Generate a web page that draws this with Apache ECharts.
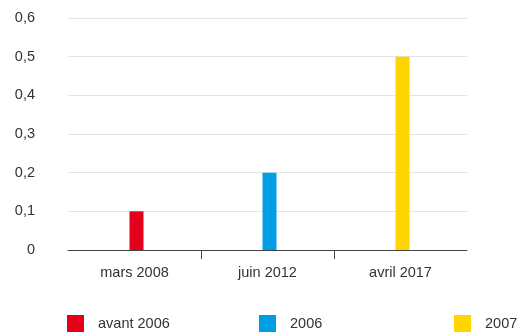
<!DOCTYPE html>
<html><head><meta charset="utf-8">
<script src="https://cdn.jsdelivr.net/npm/echarts@6/dist/echarts.min.js"></script>
<style>html,body{margin:0;padding:0;background:#fff}#c{width:517px;height:335px}</style>
</head><body><div id="c"></div>
<script>
const categories = ['mars 2008', 'juin 2012', 'avril 2017'];
const seriesNames = ['avant 2006', '2006', '2007'];
const avant2006 = [0.1, null, null];
const s2006 = [null, 0.2, null];
const s2007 = [null, null, 0.5];
const yTicks = [0, 0.1, 0.2, 0.3, 0.4, 0.5, 0.6];
const colors = ['#E2001A', '#009FE3', '#FFD500'];

const font = '"Liberation Sans", Arial, sans-serif';
const fs = 14.5;
const txt = '#333';
const chart = echarts.init(document.getElementById('c'), null, {renderer: 'canvas'});
const values = [avant2006, s2006, s2007];
const legendLeft = [67, 259, 454];
const yMin = yTicks[0], yMax = yTicks[yTicks.length - 1];
chart.setOption({
  animation: false,
  grid: [
    {left: 68, right: 50, top: 18, bottom: 85, containLabel: false},
    {left: 70, right: 48, top: 18, bottom: 85, containLabel: false}
  ],
  legend: seriesNames.map((n, i) => ({
    data: [n], left: legendLeft[i], top: 315, padding: 0, itemWidth: 17, itemHeight: 17,
    icon: 'rect', selectedMode: false,
    textStyle: {fontFamily: font, fontSize: fs, color: txt, padding: [0, 0, 0, 9]}
  })),
  xAxis: [{
    gridIndex: 0, type: 'category', data: categories,
    axisLine: {lineStyle: {color: '#444', width: 1}},
    axisTick: {show: false},
    axisLabel: {fontFamily: font, fontSize: fs, color: txt, margin: 15}
  }, {
    gridIndex: 0, type: 'category', data: ['', '', '', ''], boundaryGap: false, position: 'bottom',
    axisLine: {show: false}, axisLabel: {show: false},
    axisTick: {show: true, length: 9, lineStyle: {color: '#444'}, interval: (i) => i === 1 || i === 2}
  }, {
    gridIndex: 1, type: 'category', data: categories, show: false
  }],
  yAxis: [{
    gridIndex: 0, type: 'value', min: yMin, max: yMax, interval: 0.1,
    axisLine: {show: false}, axisTick: {show: false},
    splitLine: {lineStyle: {color: '#e3e3e3'}},
    axisLabel: {fontFamily: font, fontSize: fs, color: txt, margin: 33,
      formatter: v => String(Math.round(v * 10) / 10).replace('.', ',')}
  }, {
    gridIndex: 1, type: 'value', min: yMin, max: yMax, interval: 0.1, show: false,
    splitLine: {show: false}
  }],
  series: seriesNames.map((n, i) => ({
    name: n, type: 'bar', data: values[i], barWidth: 14, barGap: '-100%',
    xAxisIndex: 2, yAxisIndex: 1, z: 3,
    itemStyle: {color: colors[i]}
  }))
});
</script></body></html>
